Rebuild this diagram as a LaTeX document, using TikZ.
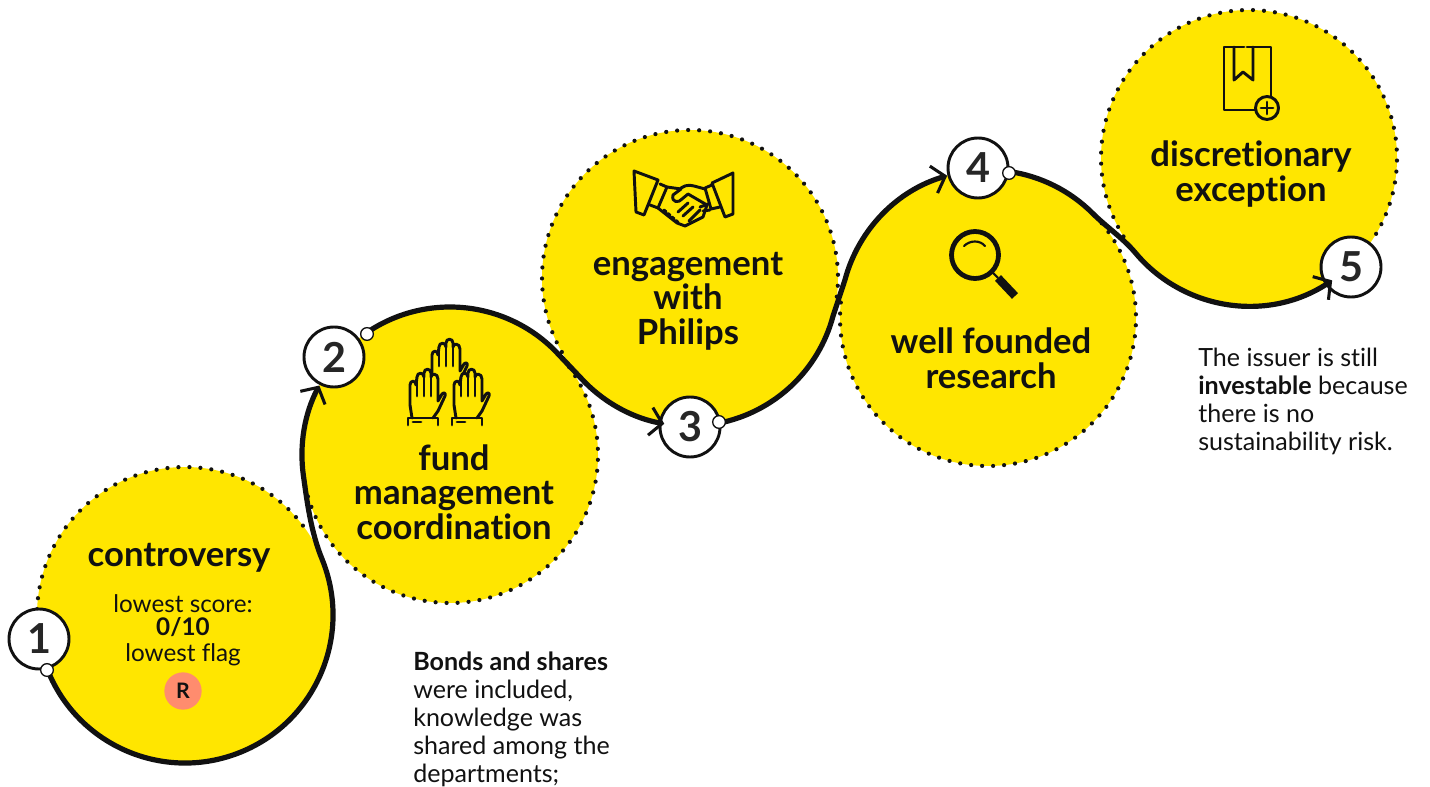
\documentclass[tikz,border=0pt]{standalone}
\usepackage{fontspec}
\setmainfont{Lato}[Ligatures=NoCommon]
\usetikzlibrary{arrows.meta}
\definecolor{ingy}{HTML}{FFE600}
\definecolor{ingr}{HTML}{FF8C6E}
\definecolor{ink}{HTML}{111111}
\newcommand{\dotarc}[3]{%
  \pgfmathsetmacro{\dotn}{int(abs(#3-(#2))/4.26)}%
  \pgfmathsetmacro{\dots}{(#3>#2)?4.26:-4.26}%
  \foreach \i in {0,...,\dotn} {\fill[ink] (#1.center) ++({#2+\i*\dots}:148) circle[radius=2.1];}}
\tikzset{
  x=0.75pt,y=-0.75pt,
  blob/.style={fill=ingy,draw=none,circle,minimum size=222pt,inner sep=0pt},
  flow/.style={ink,line width=3.9pt,line cap=round,line join=round,
    -{Straight Barb[line width=2.3pt,length=9pt,width=21pt]}},
  numnode/.style={circle,draw=ink,fill=white,line width=2.2pt,minimum size=45pt,inner sep=0pt,font=\fontsize{31}{31}\selectfont\bfseries,text=black!85},
  tiny/.style={circle,draw=ink,fill=white,line width=1pt,minimum size=9.5pt,inner sep=0pt},
  head/.style={align=center,font=\fontsize{26}{26}\selectfont\bfseries,text=ink,inner sep=0pt},
  small/.style={align=center,font=\fontsize{18.2}{18.2}\selectfont,text=ink,inner sep=0pt},
  para/.style={align=left,anchor=north west,font=\fontsize{18.8}{21}\selectfont,text=ink,inner sep=0pt},
  icon/.style={ink,line width=2.2pt,line join=round,line cap=round},
  pics/hand/.style={code={
    \draw[icon,fill=#1] (17,83) -- (15,70) -- (15,50) .. controls (15,45) and (21,45) .. (21,50)
      -- (22,42) .. controls (22,37) and (29,37) .. (29,42) -- (29,38)
      .. controls (29,33) and (36,33) .. (36,38) -- (36,42) .. controls (36,38) and (43,38) .. (43,44)
      -- (43,66) -- (47,59) .. controls (49,57) and (51,58) .. (50,61) -- (43,76) -- (38,83);
    \draw[icon] (22,42) -- (22,61) (29,38) -- (29,61) (36,42) -- (36,61);
  }},
}
\begin{document}
\begin{tikzpicture}
\useasboundingbox (0,0) rectangle (1430,787);
\node[blob] (b1) at (185,615) {};
\node[blob] (b2) at (450,455) {};
\node[blob] (b3) at (690,278) {};
\node[blob] (b4) at (988,318) {};
\node[blob] (b5) at (1249,158) {};
\dotarc{b1}{178}{325}
\dotarc{b2}{168}{-42}
\dotarc{b3}{150}{370}
\dotarc{b4}{186}{-43}
\dotarc{b5}{148}{392}
\node[numnode] (n1) at (39,639) {1};
\node[numnode] (n2) at (334,357) {2};
\node[numnode] (n3) at (690,427) {3};
\node[numnode] (n4) at (978,168) {4};
\node[numnode] (n5) at (1351,267) {5};
\draw[flow] (b1.center) ++(158:148) arc[start angle=158,end angle=-22,radius=148]
  .. controls (310.7,531.8) and (306.9,500.3) .. (303.4,475.6)
  arc[start angle=172,end angle=208,radius=148];
\draw[flow] (b2.center) ++(235.6:148) arc[start angle=235.6,end angle=315,radius=148]
  -- (585.3,382.7) arc[start angle=135,end angle=100,radius=148];
\draw[flow] (b3.center) ++(78.6:148) arc[start angle=78.6,end angle=15,radius=148]
  -- (845,279.7) arc[start angle=195,end angle=254,radius=148];
\draw[flow] (b4.center) ++(-81.8:148) arc[start angle=-81.8,end angle=-45,radius=148]
  .. controls (1106.7,227.3) and (1122.7,237.8) .. (1135.6,253.1)
  arc[start angle=140,end angle=55.8,radius=148];
\node[tiny] (s1) at (47,670) {};
\node[tiny] (s2) at (367,334) {};
\node[tiny] (s3) at (719,422) {};
\node[tiny] (s4) at (1009,173) {};
% texts
\node[head] (t1) at (179,558) {controversy};
\node[small] (t1a) at (183,604) {lowest score:};
\node[small] (t1b) at (183,627) {\bfseries 0/10};
\node[small] (t1c) at (183,655) {lowest flag};
\node[circle,fill=ingr,minimum size=28pt,inner sep=0pt,font=\fontsize{16}{16}\selectfont\bfseries,text=ink] (r) at (183,691) {R};
\node[head] (t2) at (454,492) {fund\\management\\coordination};
\node[head] (t3) at (688,301) {engagement\\with\\Philips};
\node[head] (t4) at (991,358) {well founded\\research};
\node[head] (t5) at (1251,174) {discretionary\\exception};
\node[para] (p1) at (413,652) {\textbf{Bonds and shares}\\were included,\\knowledge was\\shared among the\\departments;};
\node[para] (p2) at (1198,348) {The issuer is still\\\textbf{investable} because\\there is no\\sustainability risk.};
% hands
\begin{scope}[shift={(395,335)}]
\pic at (22,-30) {hand=none};
\pic at (0,0) {hand=ingy};
\pic at (44,0) {hand=ingy};
\draw[icon] (13,90) -- (13,83) -- (43,83) -- (43,90) (18,87) -- (26,87) (57,90) -- (57,83) -- (87,83) -- (87,90) (62,87) -- (70,87);
\end{scope}
% handshake
\draw[icon] (634,171) -- (658,180) -- (644,215) -- (636,212) -- cycle;
\draw[icon] (733,173) -- (712,183) -- (725,217) -- (733,214) -- cycle;
\draw[icon] (660,184) -- (667,187) -- (658,208) -- (650,205);
\draw[icon] (712,185) -- (705,188) -- (711,209) -- (720,207);
\draw[icon] (667,187) -- (681,189) -- (673,195) .. controls (671,203) and (679,203) .. (682,199) -- (688,194) -- (707,205) -- (703,217) -- (685,226) -- (677,223) -- (663,212) -- (658,208);
\draw[icon] (705,189) -- (694,186) .. controls (688,184) and (682,186) .. (678,191);
\draw[icon] (678,212) -- (688,203) (683,216) -- (693,207) (689,221) -- (700,210) (708,204) -- (700,207) (710,210) -- (703,211);
\draw[icon,dash pattern=on 2pt off 2pt] (664,210) -- (680,224);
% magnifier
\draw[ink,line width=3.6pt] (975,255) circle[radius=23.5];
\draw[ink,line width=1.6pt,line cap=round] (964,246) .. controls (970,240) and (980,240) .. (985,246);
\draw[ink,line width=1.6pt] (992,272) -- (998,278);
\draw[ink,line width=6.2pt] (998,278) -- (1015,296);
% book
\draw[icon] (1244,47) -- (1224,47) -- (1224,110) -- (1255,110);
\draw[icon] (1247,47) -- (1271,47) -- (1271,96);
\draw[icon] (1234,47) -- (1234,80) -- (1243,72) -- (1253,80) -- (1253,47);
\draw[icon] (1267,108) circle[radius=11.5];
\draw[icon] (1261,108) -- (1273,108) (1267,102) -- (1267,114);
\end{tikzpicture}
\end{document}
